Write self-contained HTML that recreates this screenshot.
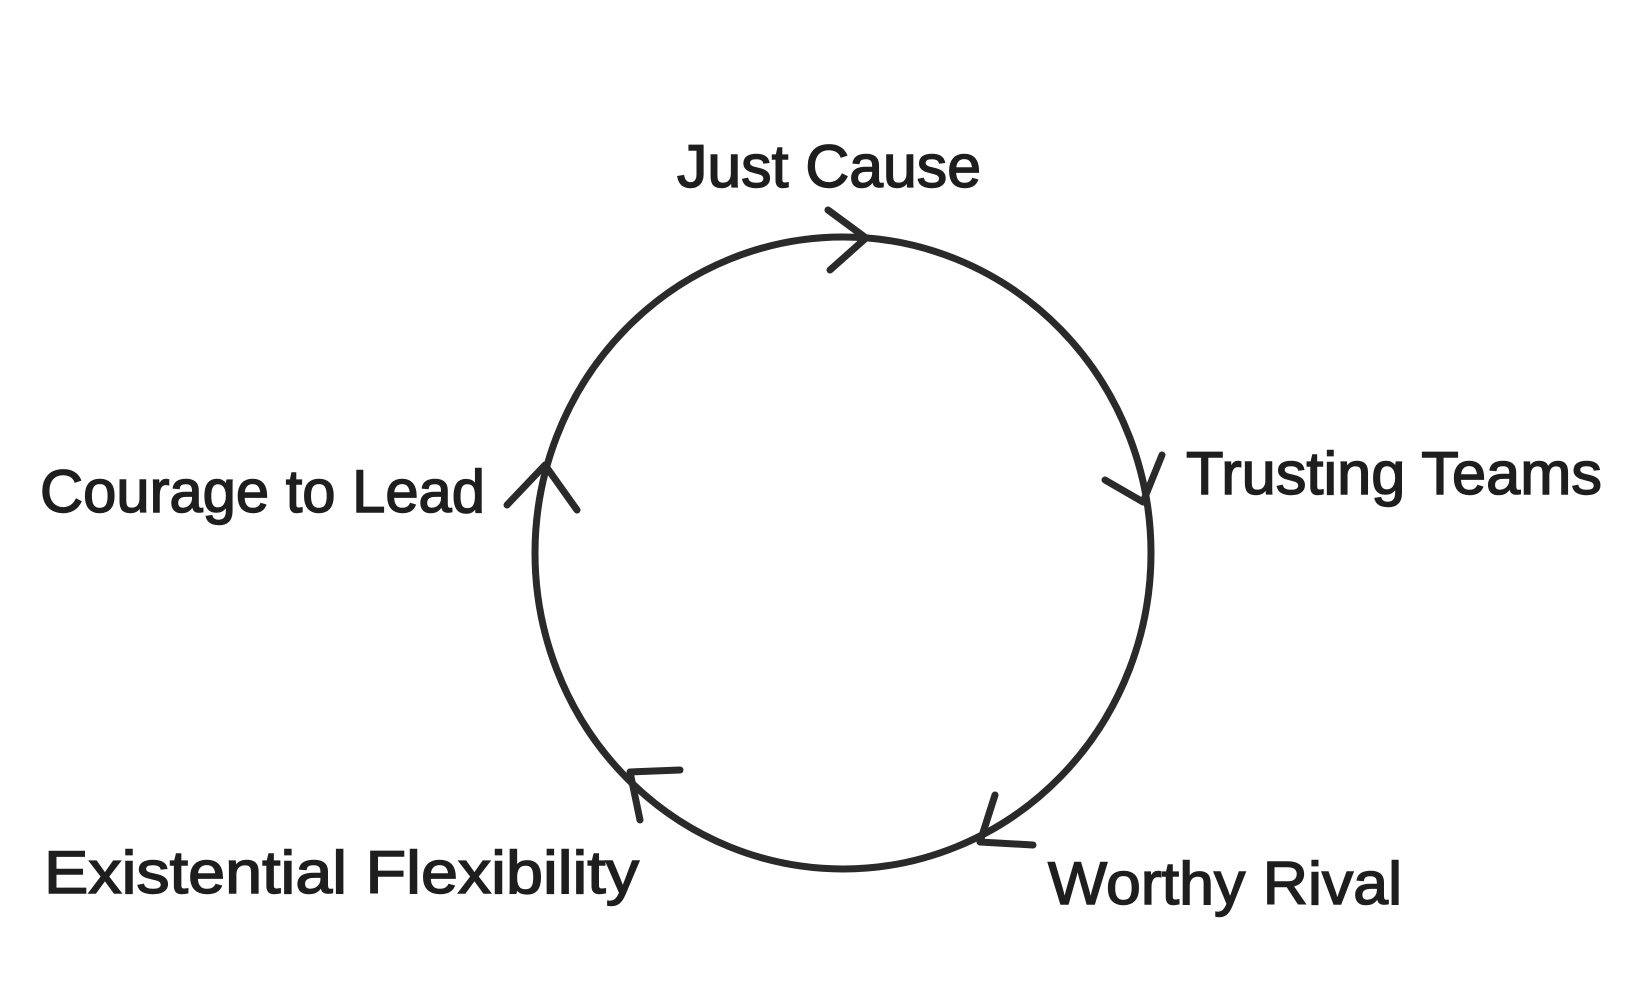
<!DOCTYPE html>
<html><head><meta charset="utf-8"><style>
html,body{margin:0;padding:0;background:#fff;width:1640px;height:983px;overflow:hidden}
text{font-family:"Liberation Sans",sans-serif;fill:#1e1e1e;font-size:60px;stroke:#1e1e1e;stroke-width:1.5}
</style></head><body>
<svg width="1640" height="983" viewBox="0 0 1640 983" xmlns="http://www.w3.org/2000/svg">
<g fill="none" stroke="#2a2a2a" stroke-width="7" stroke-linecap="round" stroke-linejoin="round">
<ellipse cx="843" cy="553" rx="308" ry="316"/>
<polyline points="828,210 866,238 830,270"/>
<polyline points="1105,480 1143,502 1162,455"/>
<polyline points="995,795 980,842 1033,845"/>
<polyline points="680,770 630,772 640,820"/>
<polyline points="507,505 545,465 577,510"/>
</g>
<text x="677" y="187" textLength="304" lengthAdjust="spacingAndGlyphs">Just Cause</text>
<text x="1186" y="494" textLength="416" lengthAdjust="spacingAndGlyphs">Trusting Teams</text>
<text x="40" y="512" textLength="445" lengthAdjust="spacingAndGlyphs">Courage to Lead</text>
<text x="44" y="893" textLength="595" lengthAdjust="spacingAndGlyphs">Existential Flexibility</text>
<text x="1048" y="904" textLength="354" lengthAdjust="spacingAndGlyphs">Worthy Rival</text>
</svg>
</body></html>
